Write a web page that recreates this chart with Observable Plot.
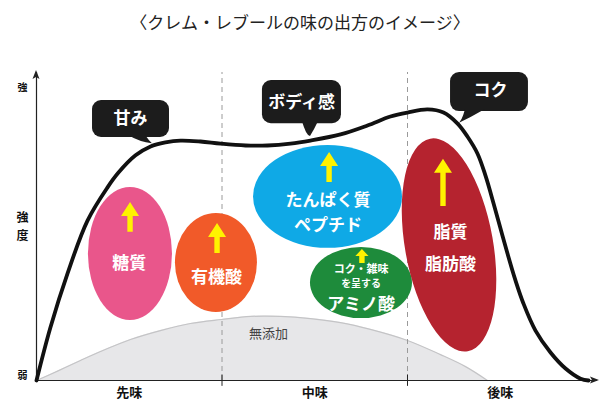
<!DOCTYPE html>
<html><head><meta charset="utf-8">
<script src="https://cdn.jsdelivr.net/npm/d3@7"></script>
<script src="https://cdn.jsdelivr.net/npm/@observablehq/plot@0.6"></script>
<style>
body{margin:0;background:#fff;font-family:'Noto Sans CJK JP',sans-serif;}
#title{height:44px;line-height:44px;text-align:center;font-size:17px;color:#222;}
</style></head><body>
<div id="title">〈クレム・レブールの味の出方のイメージ〉</div>
<div id="chart"></div>
<script>
// stages along the time axis
const stages = ["先味", "中味", "後味"];
const stageX = [0.5, 1.5, 2.5];
const boundaries = [1, 2];

// overall taste curve (intensity over time)
const curveX = [0,0.075,0.167,0.275,0.383,0.442,0.534,0.615,0.695,0.776,0.884,0.992,1.127,1.245,1.369,1.477,1.639,1.784,1.908,2.0,2.108,2.194,2.270,2.323,2.377,2.420,2.464,2.501,2.539,2.582,2.625,2.690,2.771,2.852,2.933,2.976];
const curveY = [0,17.2,34.7,51.9,62.7,67.5,73.1,76.0,77.3,77.9,77.6,76.9,76.3,76.3,76.9,77.9,79.9,82.8,85.7,87.0,88.0,87.0,83.4,79.2,73.7,66.6,57.5,49.4,41.2,32.5,25.0,16.2,9.1,3.9,0.6,0];

// additive-free baseline dome
const domeX = [0,0.119,0.237,0.345,0.507,0.668,0.830,0.997,1.154,1.315,1.477,1.639,1.800,2.0,2.178,2.313,2.431];
const domeY = [0,3.2,6.5,9.4,13.3,16.2,18.5,19.8,20.8,20.8,20.1,18.8,16.6,13.0,8.4,4.5,0];
const domeLabel = "無添加";
const domeLabelX = 1.251, domeLabelY = 15.3;

// component ellipses (time extent, intensity extent, tilt)
const ellNames = ["糖質", "有機酸", "たんぱく質ペプチド", "アミノ酸", "脂質脂肪酸"];
const ellX1 = [0.280, 0.749, 1.170, 1.477, 1.989];
const ellX2 = [0.733, 1.191, 1.973, 2.027, 2.464];
const ellY1 = [19.5, 22.1, 42.9, 20.1, 8.8];
const ellY2 = [62.7, 54.2, 76.3, 43.2, 78.9];
const ellTilt = [0, 0, 0, 0, -10];
const ellColors = ["#e9568b", "#f15a29", "#0fa9e6", "#1e8b3b", "#b5232f"];

// labels inside ellipses
const bigText = ["糖質", "有機酸", "たんぱく質", "ペプチド", "アミノ酸", "脂質", "脂肪酸"];
const bigX = [0.500, 0.970, 1.572, 1.572, 1.750, 2.232, 2.232];
const bigY = [38.0, 33.4, 58.4, 50.3, 24.5, 48.1, 37.7];
const noteText = ["コク・雑味", "を呈する"];
const noteX = [1.750, 1.750];
const noteY = [36.0, 31.3];

// yellow "increase" arrows
const arrowX = [0.507, 0.976, 1.580, 1.757, 2.194];
const arrowFrom = [48.1, 41.2, 64.3, 38.0, 56.5];
const arrowTo = [57.8, 51.0, 74.0, 42.5, 71.8];

// callout bubbles
const bubText = ["甘み", "ボディ感", "コク"];
const bubX1 = [0.302, 1.218, 2.232];
const bubX2 = [0.717, 1.644, 2.652];
const bubY1 = [78.9, 83.4, 87.3];
const bubY2 = [90.9, 97.4, 100];
const bubTailA = [0.496, 1.434, 2.313];
const bubTailB = [0.588, 1.520, 2.420];
const bubTipX = [0.625, 1.477, 2.275];
const bubTipY = [76.9, 79.2, 83.4];
const bubTextX = [0.507, 1.429, 2.447];
const bubTextY = [85.1, 90.3, 94.2];

// axis labels
const yLabels = ["強", "弱"];
const yLabelY = [95.1, 1.6];
const yTitle = "強\n度";
const yTitleY = 50.3;
const yLabelX = -0.075;
const xAxisEnd = 3.024;

const curve = curveX.map((x, i) => ({x, y: curveY[i]}));
const dome = domeX.map((x, i) => ({x, y: domeY[i]}));
const big = bigText.map((t, i) => ({t, x: bigX[i], y: bigY[i]}));
const bubLabels = bubText.map((t, i) => ({t, x: bubTextX[i], y: bubTextY[i]}));
const stageData = stages.map((t, i) => ({t, x: stageX[i]}));

const FONT = "'Noto Sans CJK JP', sans-serif";

function ellipsesMark(index, {x, y}) {
  const g = d3.create("svg:g");
  ellNames.forEach((n, i) => {
    const X1 = x(ellX1[i]), X2 = x(ellX2[i]), Y1 = y(ellY1[i]), Y2 = y(ellY2[i]);
    const cx = (X1 + X2) / 2, cy = (Y1 + Y2) / 2;
    g.append("ellipse").attr("cx", cx).attr("cy", cy)
      .attr("rx", Math.abs(X2 - X1) / 2).attr("ry", Math.abs(Y2 - Y1) / 2)
      .attr("fill", ellColors[i])
      .attr("transform", `rotate(${ellTilt[i]},${cx},${cy})`);
  });
  return g.node();
}

function arrowsMark(index, {x, y}) {
  const g = d3.create("svg:g").attr("fill", "#fff200");
  arrowX.forEach((ax, i) => {
    const px = x(ax), pb = y(arrowFrom[i]), pt = y(arrowTo[i]);
    const len = pb - pt;
    const hh = Math.min(14, len * 0.5), hw = Math.min(9, hh * 0.95), sw = 2.7;
    g.append("path").attr("d", `M${px - sw},${pb}V${pt + hh}H${px - hw}L${px},${pt}L${px + hw},${pt + hh}H${px + sw}V${pb}Z`);
  });
  return g.node();
}

function bubblesMark(index, {x, y}) {
  const g = d3.create("svg:g").attr("fill", "#1c1c1c");
  bubText.forEach((t, i) => {
    const X1 = x(bubX1[i]), X2 = x(bubX2[i]), T = y(bubY2[i]), B = y(bubY1[i]);
    g.append("rect").attr("x", X1).attr("y", T).attr("width", X2 - X1).attr("height", B - T).attr("rx", 9);
    const a = x(bubTailA[i]), b = x(bubTailB[i]), tx = x(bubTipX[i]), ty = y(bubTipY[i]);
    g.append("path").attr("d", `M${a},${B - 2}Q${(a + tx) / 2},${ty - 1} ${tx},${ty}Q${(b + tx) / 2},${(B + ty) / 2} ${b},${B - 2}Z`);
  });
  return g.node();
}

function axisHeads(index, {x, y}) {
  const g = d3.create("svg:g").attr("fill", "#222");
  const ox = x(0), top = y(100), ex = x(xAxisEnd), oy = y(0);
  g.append("path").attr("d", `M${ox},${top - 2}L${ox - 3.5},${top + 7}L${ox},${top + 5}L${ox + 3.5},${top + 7}Z`);
  g.append("path").attr("d", `M${ex + 2},${oy}L${ex - 7},${oy - 3.5}L${ex - 5},${oy}L${ex - 7},${oy + 3.5}Z`);
  return g.node();
}

const chart = Plot.plot({
  width: 600,
  height: 364,
  marginLeft: 36,
  marginRight: 7.5,
  marginTop: 28,
  marginBottom: 28,
  x: {domain: [0, 3], axis: null},
  y: {domain: [0, 100], axis: null},
  style: {fontFamily: FONT, overflow: "visible", background: "#fff"},
  marks: [
    Plot.areaY(dome, {x: "x", y: "y", fill: "#e7e7e9", curve: "catmull-rom"}),
    Plot.line(dome, {x: "x", y: "y", stroke: "#c4c4c6", strokeWidth: 1.2, curve: "catmull-rom"}),
    Plot.ruleX(boundaries, {y1: 0, y2: 100, stroke: "#9a9a9a", strokeWidth: 1, strokeDasharray: "5,4"}),
    Plot.ruleX(boundaries, {y1: 1.8, y2: -1.9, stroke: "#222", strokeWidth: 1}),
    Plot.ruleX([0], {y1: 0, y2: 100, stroke: "#222", strokeWidth: 1.2}),
    Plot.ruleY([0], {x1: 0, x2: xAxisEnd, stroke: "#222", strokeWidth: 1.2}),
    axisHeads,
    Plot.text([domeLabel], {x: domeLabelX, y: domeLabelY, text: d => d, fontSize: 13, fill: "#444"}),
    ellipsesMark,
    arrowsMark,
    Plot.line(curve, {x: "x", y: "y", stroke: "#111", strokeWidth: 3.8, curve: "catmull-rom"}),
    bubblesMark,
    Plot.text(big, {x: "x", y: "y", text: "t", fill: "#fff", fontSize: 17, fontWeight: "bold"}),
    Plot.text([noteText[0]], {x: noteX[0], y: noteY[0], text: d => d, fill: "#fff", fontSize: 11, fontWeight: "bold"}),
    Plot.text([noteText[1]], {x: noteX[1], y: noteY[1], text: d => d, fill: "#fff", fontSize: 10, fontWeight: "bold"}),
    Plot.text(bubLabels, {x: "x", y: "y", text: "t", fill: "#fff", fontSize: 17, fontWeight: "bold"}),
    Plot.text(stageData, {x: "x", y: -3.9, text: "t", fill: "#111", fontSize: 13, fontWeight: "bold"}),
    Plot.text(yLabels, {x: yLabelX, y: yLabelY, text: d => d, fill: "#111", fontSize: 10, fontWeight: "bold"}),
    Plot.text([yTitle], {x: yLabelX, y: yTitleY, text: d => d, fill: "#111", fontSize: 12, lineHeight: 1.45, fontWeight: "bold"})
  ]
});
document.getElementById("chart").appendChild(chart);
</script>
</body></html>
